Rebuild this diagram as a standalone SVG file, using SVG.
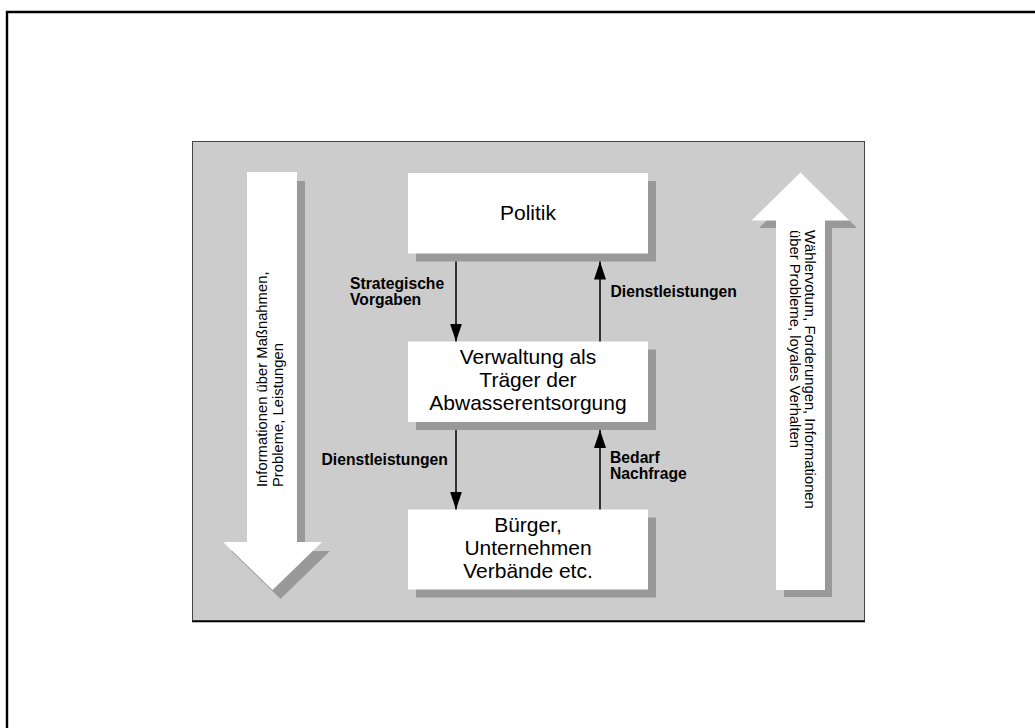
<svg xmlns="http://www.w3.org/2000/svg" width="1035" height="728" viewBox="0 0 1035 728">
  <defs>
    <!-- filled arrowhead, tip along +x so orient="auto" points it along the line -->
    <marker id="head" viewBox="0 0 18 12" refX="18" refY="6" markerWidth="18" markerHeight="12" markerUnits="userSpaceOnUse" orient="auto">
      <path d="M0,0 L18,6 L0,12 Z" fill="#000"/>
    </marker>
    <style>
      .frame { fill: none; stroke: #000; stroke-width: 2.4; }
      .panel { fill: #cccccc; stroke: #444; stroke-width: 1; }
      .box { fill: #ffffff; }
      .shadow { fill: #999999; }
      .node-text { font-family: "Liberation Sans", Arial, sans-serif; font-size: 21px; fill: #000; text-anchor: middle; }
      .label { font-family: "Liberation Sans", Arial, sans-serif; font-size: 15.7px; font-weight: bold; fill: #000; }
      .flow-text { font-family: "Liberation Sans", Arial, sans-serif; font-size: 14.8px; fill: #000; }
      .conn { stroke: #333; stroke-width: 2; fill: none; }
    </style>
  </defs>

  <rect width="1035" height="728" fill="#ffffff"/>

  <!-- outer page frame (only left and top edges fall inside the view) -->
  <path class="frame" d="M7,740 V12 H1040"/>

  <!-- grey background panel -->
  <g id="panel">
    <rect class="panel" x="192.5" y="141.5" width="672" height="479"/>
    <line x1="192" y1="621.5" x2="865" y2="621.5" stroke="#000" stroke-width="1.6"/>
  </g>

  <!-- large downward information arrow -->
  <g id="info-down">
    <path class="shadow" d="M255,181 H305 V551 H330 L280.5,599 L231,551 H255 Z"/>
    <path class="box" d="M247,172 H297 V542 H322 L272.5,590 L223,542 H247 Z"/>
    <text class="flow-text" transform="translate(267,487) rotate(-90)">
      <tspan x="0" y="0">Informationen über Maßnahmen,</tspan>
      <tspan x="0" y="15.5">Probleme, Leistungen</tspan>
    </text>
  </g>

  <!-- large upward feedback arrow -->
  <g id="feedback-up">
    <path class="shadow" d="M808,180 L857,228 H832 V597 H784 V228 H759 Z"/>
    <path class="box" d="M800.5,172.5 L849.5,220.5 H825 V590 H776 V220.5 H751.5 Z"/>
    <text class="flow-text" transform="translate(805,230) rotate(90)">
      <tspan x="0" y="0">Wählervotum, Forderungen, Informationen</tspan>
      <tspan x="0" y="15.5">über Probleme, loyales Verhalten</tspan>
    </text>
  </g>

  <!-- nodes -->
  <g id="politik">
    <rect class="shadow" x="416" y="181" width="240" height="80.5"/>
    <rect class="box" x="408" y="173" width="240" height="80.5"/>
    <text class="node-text" x="528" y="219.5">Politik</text>
  </g>

  <g id="verwaltung">
    <rect class="shadow" x="416" y="349.5" width="240" height="80.5"/>
    <rect class="box" x="408" y="341.5" width="240" height="80.5"/>
    <text class="node-text" x="528" y="363.5">Verwaltung als</text>
    <text class="node-text" x="528" y="386.8">Träger der</text>
    <text class="node-text" x="528" y="410">Abwasserentsorgung</text>
  </g>

  <g id="buerger">
    <rect class="shadow" x="416" y="517.5" width="240" height="80"/>
    <rect class="box" x="408" y="509.5" width="240" height="80"/>
    <text class="node-text" x="528" y="531.8">Bürger,</text>
    <text class="node-text" x="528" y="555">Unternehmen</text>
    <text class="node-text" x="528" y="577.5">Verbände etc.</text>
  </g>

  <!-- connectors between the nodes -->
  <g id="connectors">
    <line class="conn" x1="456" y1="261.5" x2="456" y2="341.5" marker-end="url(#head)"/>
    <line class="conn" x1="600" y1="341.5" x2="600" y2="261.5" marker-end="url(#head)"/>
    <line class="conn" x1="456" y1="430" x2="456" y2="509.5" marker-end="url(#head)"/>
    <line class="conn" x1="600" y1="509.5" x2="600" y2="430" marker-end="url(#head)"/>
  </g>

  <!-- connector labels -->
  <g id="labels">
    <text class="label" x="350" y="288.5">Strategische</text>
    <text class="label" x="350" y="305">Vorgaben</text>
    <text class="label" x="610.5" y="296.5">Dienstleistungen</text>
    <text class="label" x="321.5" y="465">Dienstleistungen</text>
    <text class="label" x="610" y="462.5">Bedarf</text>
    <text class="label" x="610" y="479">Nachfrage</text>
  </g>
</svg>
